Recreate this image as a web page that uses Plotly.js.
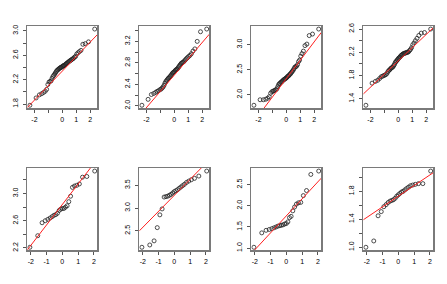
<!DOCTYPE html>
<html><head><meta charset="utf-8">
<script src="https://cdn.plot.ly/plotly-3.0.1.min.js"></script>
<style>html,body{margin:0;padding:0;background:#fff}#chart{width:447px;height:284px}</style>
</head><body><div id="chart"></div>
<script>
// Theoretical normal quantiles (qqnorm x-values) for n=50 and n=25
const theoQ50 = [-2.3263,-1.8808,-1.6449,-1.4758,-1.3408,-1.2265,-1.1264,-1.0364,-0.9542,-0.8779,
  -0.8064,-0.7388,-0.6745,-0.6128,-0.5534,-0.4959,-0.4399,-0.3853,-0.3319,-0.2793,
  -0.2275,-0.1764,-0.1257,-0.0753,-0.0251,0.0251,0.0753,0.1257,0.1764,0.2275,
  0.2793,0.3319,0.3853,0.4399,0.4959,0.5534,0.6128,0.6745,0.7388,0.8064,
  0.8779,0.9542,1.0364,1.1264,1.2265,1.3408,1.4758,1.6449,1.8808,2.3263];
const theoQ25 = [-2.0537,-1.5548,-1.2816,-1.0803,-0.9154,-0.7722,-0.6433,-0.5244,-0.4125,-0.3055,
  -0.2019,-0.1004,0,0.1004,0.2019,0.3055,0.4125,0.5244,0.6433,0.7722,
  0.9154,1.0803,1.2816,1.5548,2.0537];

// Sorted sample values
const sample1 = [1.78,1.90,1.95,1.97,1.99,2.01,2.04,2.12,2.16,2.17,2.18,2.22,2.25,2.27,2.29,2.31,2.33,2.35,2.36,2.37,
  2.38,2.39,2.40,2.40,2.41,2.42,2.43,2.43,2.44,2.45,2.46,2.47,2.48,2.49,2.50,2.51,2.52,2.53,2.54,2.55,
  2.57,2.58,2.62,2.64,2.66,2.68,2.78,2.79,2.82,3.03];
const sample2 = [2.01,2.12,2.21,2.23,2.25,2.27,2.28,2.30,2.31,2.33,2.35,2.38,2.42,2.45,2.47,2.49,2.51,2.52,2.54,2.55,
  2.57,2.59,2.61,2.62,2.63,2.64,2.66,2.67,2.68,2.69,2.71,2.73,2.75,2.77,2.79,2.80,2.81,2.82,2.84,2.86,
  2.88,2.90,2.92,2.94,2.97,3.02,3.06,3.20,3.38,3.43];
const sample3 = [1.79,1.90,1.90,1.91,1.93,1.96,2.03,2.06,2.07,2.08,2.09,2.10,2.12,2.16,2.20,2.22,2.23,2.25,2.26,2.27,
  2.29,2.30,2.31,2.32,2.33,2.34,2.36,2.37,2.38,2.40,2.41,2.43,2.45,2.47,2.49,2.52,2.55,2.56,2.57,2.60,
  2.66,2.69,2.77,2.82,2.87,2.98,3.01,3.18,3.21,3.31];
const sample4 = [1.29,1.67,1.70,1.72,1.75,1.78,1.79,1.80,1.81,1.82,1.84,1.87,1.89,1.90,1.92,1.93,1.94,1.95,1.97,1.99,
  2.02,2.04,2.05,2.07,2.08,2.10,2.11,2.12,2.14,2.15,2.16,2.17,2.18,2.18,2.19,2.19,2.20,2.20,2.21,2.23,
  2.25,2.28,2.33,2.36,2.40,2.44,2.49,2.53,2.54,2.60];
const sample5 = [2.21,2.38,2.57,2.60,2.62,2.64,2.66,2.68,2.69,2.71,2.75,2.77,2.78,2.78,2.80,2.82,2.88,2.96,3.09,3.11,
  3.12,3.14,3.24,3.25,3.33];
const sample6 = [2.14,2.19,2.28,2.57,2.85,2.98,3.24,3.25,3.26,3.28,3.30,3.33,3.36,3.38,3.40,3.43,3.46,3.49,3.52,3.56,
  3.59,3.62,3.65,3.70,3.81];
const sample7 = [1.02,1.36,1.42,1.44,1.46,1.48,1.50,1.52,1.53,1.54,1.55,1.57,1.58,1.62,1.72,1.75,1.88,1.97,2.04,2.07,
  2.08,2.24,2.36,2.74,2.82];
const sample8 = [1.00,1.09,1.45,1.51,1.58,1.61,1.64,1.66,1.67,1.68,1.70,1.73,1.75,1.77,1.79,1.80,1.82,1.84,1.86,1.88,
  1.89,1.90,1.91,1.91,2.09];

// Reference (qqline) intercepts and slopes
const lineIntercept = [2.34, 2.572, 2.32, 2.053, 2.838, 3.277, 1.761, 1.73];
const lineSlope = [0.238, 0.303, 0.367, 0.2267, 0.301, 0.351, 0.402, 0.152];

// Tick labels
const xTickVals = [-2,-1,0,1,2];
const xTickTextTop = ['-2','','0','1','2'];
const xTickTextBottom = ['-2','-1','0','1','2'];
const yTickVals1 = [1.8,2.0,2.2,2.4,2.6,2.8,3.0];
const yTickText1 = ['1.8','','2.2','','2.6','','3.0'];
const yTickVals2 = [2.0,2.2,2.4,2.6,2.8,3.0,3.2,3.4];
const yTickText2 = ['2.0','','2.4','','2.8','','3.2',''];
const yTickVals3 = [2.0,2.5,3.0];
const yTickText3 = ['2.0','2.5','3.0'];
const yTickVals4 = [1.4,1.6,1.8,2.0,2.2,2.4,2.6];
const yTickText4 = ['1.4','','1.8','','2.2','','2.6'];
const yTickVals5 = [2.2,2.4,2.6,2.8,3.0,3.2];
const yTickText5 = ['2.2','','2.6','','3.0',''];
const yTickVals6 = [2.5,3.0,3.5];
const yTickText6 = ['2.5','3.0','3.5'];
const yTickVals7 = [1.0,1.5,2.0,2.5];
const yTickText7 = ['1.0','1.5','2.0','2.5'];
const yTickVals8 = [1.0,1.2,1.4,1.6,1.8,2.0];
const yTickText8 = ['1.0','','1.4','','1.8',''];

const samples = [sample1,sample2,sample3,sample4,sample5,sample6,sample7,sample8];
const yTickVals = [yTickVals1,yTickVals2,yTickVals3,yTickVals4,yTickVals5,yTickVals6,yTickVals7,yTickVals8];
const yTickText = [yTickText1,yTickText2,yTickText3,yTickText4,yTickText5,yTickText6,yTickText7,yTickText8];

const W = 447, H = 284;
const colLeft = [27.3, 139.3, 251.3, 363.3];
const boxW = 70;
const rowTop = [26, 168];
const boxH = 82.3;

function padRange(arr){
  const mn = Math.min(...arr), mx = Math.max(...arr);
  const d = (mx - mn) * 0.04;
  return [mn - d, mx + d];
}

const traces = [];
const layout = {
  width: W, height: H,
  margin: {l:0, r:0, t:0, b:0},
  paper_bgcolor: '#fff', plot_bgcolor: '#fff',
  showlegend: false,
  font: {family: '"Liberation Sans", Arial, sans-serif', size: 7, color: '#000'}
};

const axisCommon = {
  showgrid: false, zeroline: false,
  showline: true, mirror: true, linecolor: '#7a7a7a', linewidth: 1.3,
  ticks: 'outside', ticklen: 3, tickwidth: 1, tickcolor: '#555',
  tickfont: {family: '"Liberation Sans", Arial, sans-serif', size: 7, color: '#000'},
  fixedrange: true
};

for (let i = 0; i < 8; i++) {
  const row = i < 4 ? 0 : 1;
  const col = i % 4;
  const xq = row === 0 ? theoQ50 : theoQ25;
  const ys = samples[i];
  const xr = padRange(xq);
  const yr = padRange(ys);
  const n = i + 1;
  const xa = 'x' + (n === 1 ? '' : n), ya = 'y' + (n === 1 ? '' : n);
  const xk = 'xaxis' + (n === 1 ? '' : n), yk = 'yaxis' + (n === 1 ? '' : n);

  traces.push({
    type: 'scatter', mode: 'markers', x: xq, y: ys, xaxis: xa, yaxis: ya,
    marker: {symbol: 'circle-open', size: 4, color: '#222', line: {width: 0.8, color: '#222'}},
    hoverinfo: 'skip'
  });
  traces.push({
    type: 'scatter', mode: 'lines', x: xr, y: xr.map(v => lineIntercept[i] + lineSlope[i] * v),
    xaxis: xa, yaxis: ya, line: {color: '#ff2020', width: 1}, hoverinfo: 'skip'
  });

  const x0 = colLeft[col] / W, x1 = (colLeft[col] + boxW) / W;
  const y1 = 1 - rowTop[row] / H, y0 = 1 - (rowTop[row] + boxH) / H;

  layout[xk] = Object.assign({}, axisCommon, {
    domain: [x0, x1], range: xr, anchor: ya,
    tickmode: 'array', tickvals: xTickVals,
    ticktext: row === 0 ? xTickTextTop : xTickTextBottom,
    ticklabelstandoff: 1
  });
  layout[yk] = Object.assign({}, axisCommon, {
    domain: [y0, y1], range: yr, anchor: xa,
    tickmode: 'array', tickvals: yTickVals[i], ticktext: yTickText[i],
    tickangle: -90, ticklabelstandoff: 2
  });
}

Plotly.newPlot('chart', traces, layout, {displayModeBar: false, staticPlot: true});
</script>
</body></html>
